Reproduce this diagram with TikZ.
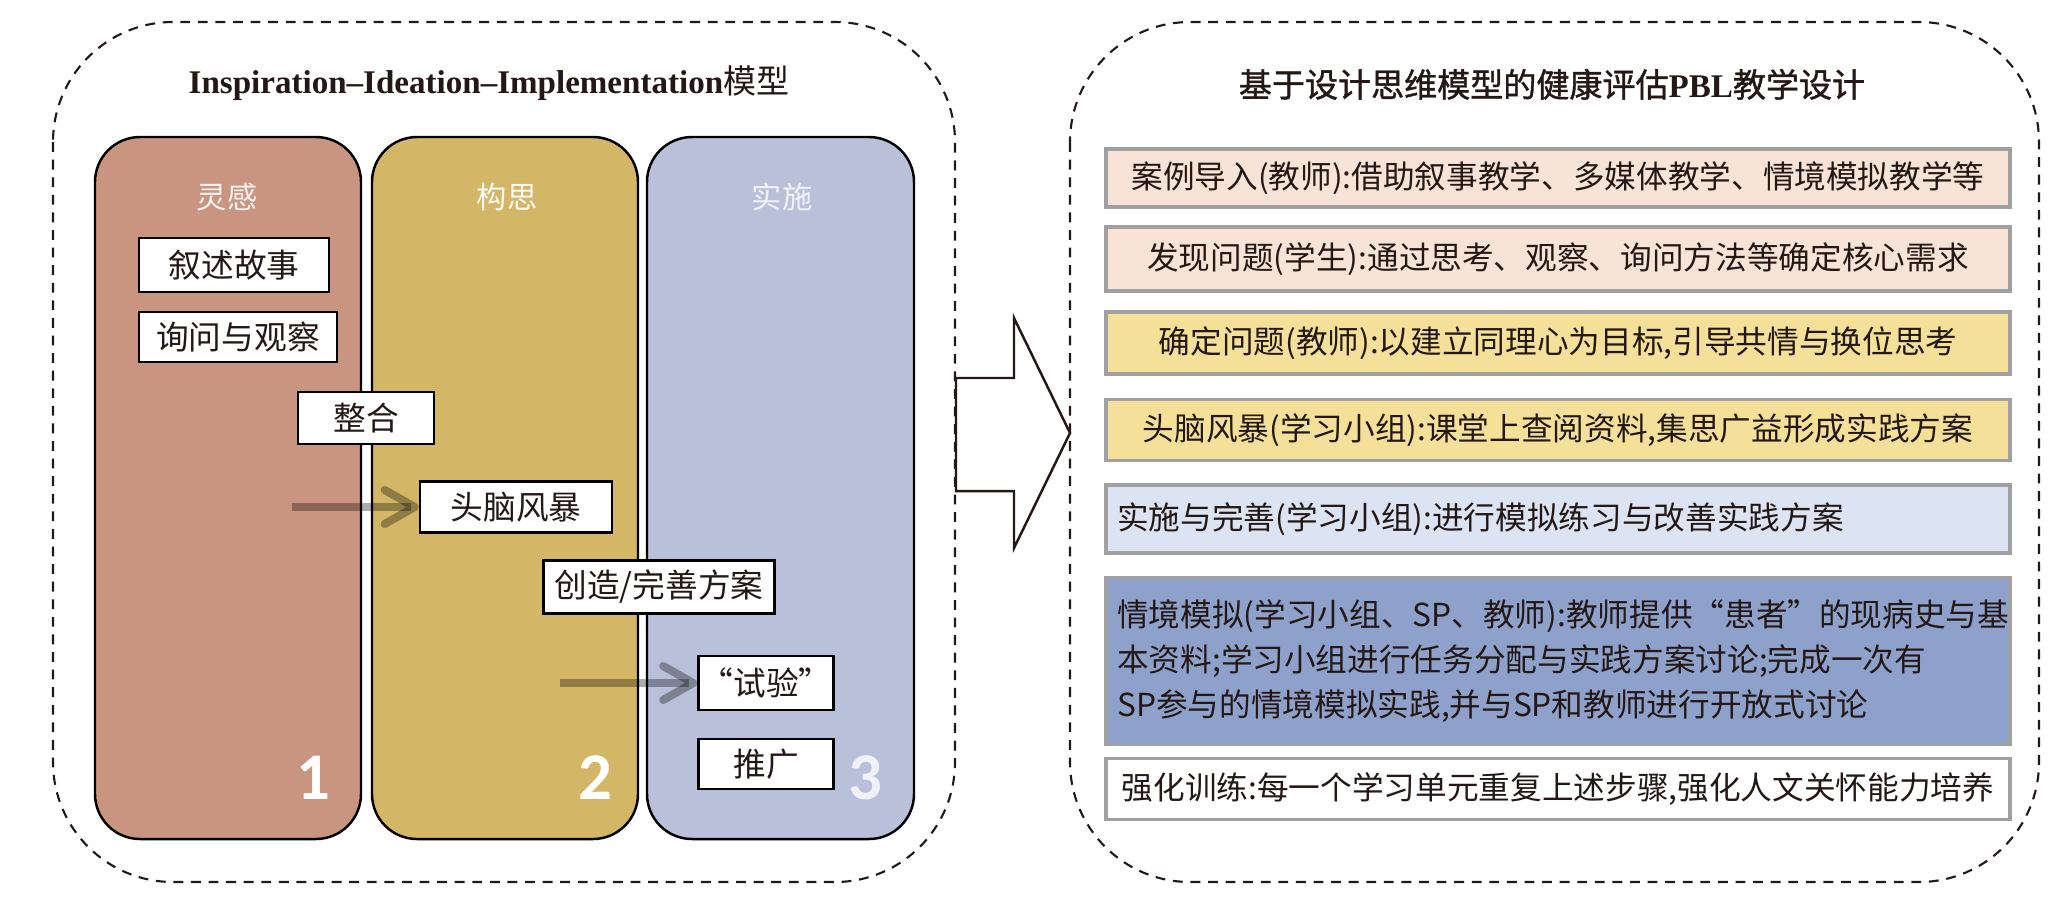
\documentclass[tikz,border=0pt]{standalone}
\usepackage{fontspec}
\setmainfont{Liberation Serif}
\newfontfamily\cjk{Noto Sans CJK SC}
\newfontfamily\cjktitle[FakeBold=1.2]{Noto Sans CJK SC}
\newfontfamily\digitfont{Carlito}
\usepackage{tikz}
\usetikzlibrary{arrows.meta}
\definecolor{inspcolor}{RGB}{201,149,129}
\definecolor{ideacolor}{RGB}{211,183,102}
\definecolor{implcolor}{RGB}{185,193,218}
\definecolor{peach}{RGB}{248,228,214}
\definecolor{lightyellow}{RGB}{245,224,154}
\definecolor{lightblue}{RGB}{220,227,242}
\definecolor{midblue}{RGB}{142,161,202}
\definecolor{boxgray}{RGB}{160,160,160}
\definecolor{inkcolor}{RGB}{35,24,21}
\tikzset{panel/.style={draw=inkcolor, line width=0.6pt,
         dash pattern=on 2.8pt off 2.2pt, rounded corners=1.2cm},
         phase/.style={draw=black, line width=0.7pt, rounded corners=0.45cm},
         phasetitle/.style={font=\cjk\fontsize{8.6pt}{10pt}\selectfont},
         phasenum/.style={anchor=base, font=\digitfont\bfseries\fontsize{19pt}{20pt}\selectfont},
         stepbox/.style={draw=black, line width=0.7pt, fill=white, text=inkcolor,
         inner sep=0pt, minimum height=0.52cm, font=\cjk\fontsize{9.3pt}{11pt}\selectfont},
         flowarrow/.style={line width=2.3pt, draw=black, draw opacity=0.32,
         -{Straight Barb[length=3mm,width=3.4mm,round]}},
         designbox/.style={draw=boxgray, line width=1pt, minimum width=9.03cm,
         inner xsep=0.11cm, inner ysep=0pt, text=inkcolor,
         font=\cjk\fontsize{9pt}{12.8pt}\selectfont},
         paneltitle/.style={anchor=base, text=inkcolor, font=\fontsize{9.4pt}{11pt}\selectfont}}

\begin{document}
\begin{tikzpicture}[x=0.01cm,y=-0.01cm]
\useasboundingbox (0,0) rectangle (2069,917);

% two dashed panels
\draw [panel] (53,22) rectangle (955,882);
\draw [panel] (1070,22) rectangle (2039,882);
\node (lefttitle) [paneltitle] at (489,93) {\bfseries Inspiration–Ideation–Implementation{\cjk\mdseries 模型}};
\node (righttitle) [paneltitle] at (1552,97) {{\cjktitle 基于设计思维模型的健康评估}{\bfseries PBL}{\cjktitle 教学设计}};

% three phases
\draw [phase, fill=inspcolor] (95,137) rectangle (361,839);
\draw [phase, fill=ideacolor] (372,137) rectangle (638,839);
\draw [phase, fill=implcolor] (647,137) rectangle (914,839);
\node (insp) [phasetitle, text=white!88!inspcolor] at (227,197) {灵感};
\node (idea) [phasetitle, text=white!92!ideacolor] at (507,197) {构思};
\node (impl) [phasetitle, text=white!80!implcolor] at (782,197) {实施};
\node (num1) [phasenum, white] at (313,799) {1};
\node (num2) [phasenum, white] at (595,799) {2};
\node (num3) [phasenum, white!78!implcolor] at (865,799) {3};

\node (story) [stepbox, minimum width=1.90cm, minimum height=0.54cm] at (234,265) {叙述故事};
\node (ask) [stepbox, minimum width=1.98cm, minimum height=0.50cm] at (238,337) {询问与观察};
\node (merge) [stepbox, minimum width=1.36cm] at (366,418) {整合};
\node (brain) [stepbox, minimum width=1.92cm, minimum height=0.51cm] at (516,507) {头脑风暴};
\node (create) [stepbox, minimum width=2.31cm, minimum height=0.53cm] at (659,587) {创造/完善方案};
\node (test) [stepbox, minimum width=1.35cm, minimum height=0.54cm] at (766,683) {“试验”};
\node (spread) [stepbox, minimum width=1.35cm, minimum height=0.50cm] at (766,764) {推广};

\coordinate (a1) at (292,507);
\coordinate (a2) at (560,683);
\draw [flowarrow] (a1) -- (brain.west);
\draw [flowarrow] (a2) -- (test.west);

% big hollow arrow
\draw [draw=inkcolor, line width=0.7pt, fill=white] (956,378) -- (1014,378) -- (1014,318)
  -- (1070,433) -- (1014,548) -- (1014,491) -- (956,491) -- cycle;

% design steps
\node (case) [designbox, fill=peach, minimum height=0.58cm] at (1558,178)
  {案例导入(教师):借助叙事教学、多媒体教学、情境模拟教学等};
\node (find) [designbox, fill=peach, minimum height=0.64cm] at (1558,259)
  {发现问题(学生):通过思考、观察、询问方法等确定核心需求};
\node (fix) [designbox, fill=lightyellow, minimum height=0.62cm] at (1558,343)
  {确定问题(教师):以建立同理心为目标,引导共情与换位思考};
\node (storm) [designbox, fill=lightyellow, minimum height=0.61cm] at (1558,430)
  {头脑风暴(学习小组):课堂上查阅资料,集思广益形成实践方案};
\node (apply) [designbox, fill=lightblue, minimum height=0.68cm, text width=8.81cm, align=left] at (1558,519)
  {实施与完善(学习小组):进行模拟练习与改善实践方案};
\node (sim) [designbox, fill=midblue, minimum height=1.67cm, text width=8.81cm, align=left] at (1558,661)
  {情境模拟(学习小组、SP、教师):教师提供“患者”的现病史与基\\
   本资料;学习小组进行任务分配与实践方案讨论;完成一次有\\
   SP参与的情境模拟实践,并与SP和教师进行开放式讨论};
\node (train) [designbox, fill=white, minimum height=0.61cm] at (1558,789)
  {强化训练:每一个学习单元重复上述步骤,强化人文关怀能力培养};

\end{tikzpicture}
\end{document}
